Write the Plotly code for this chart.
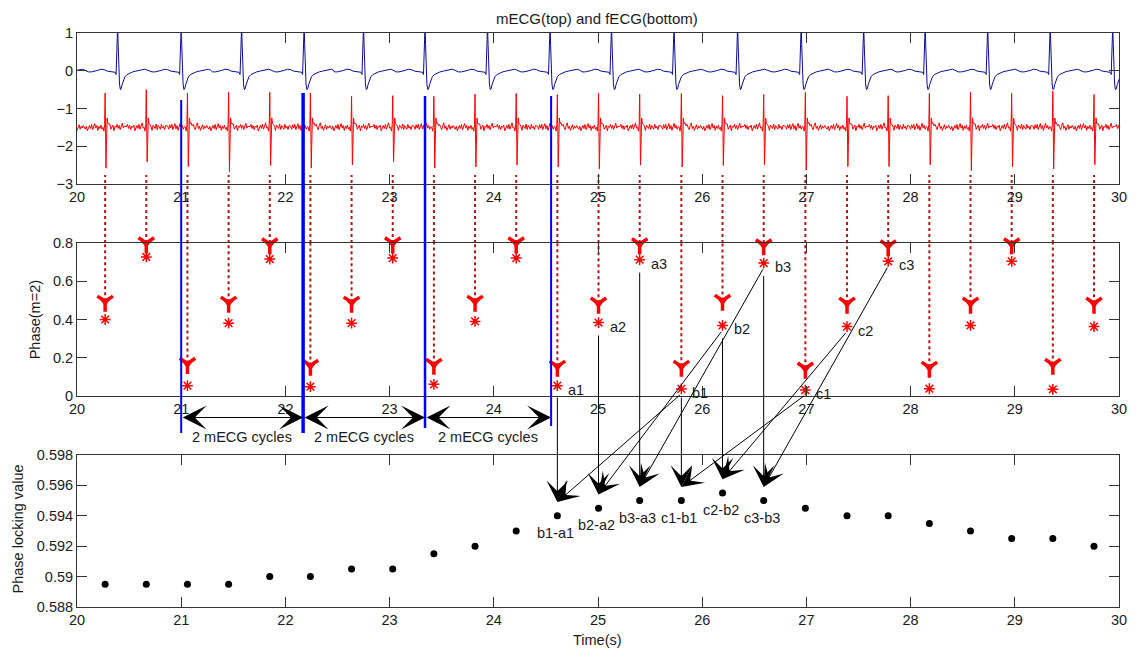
import plotly.graph_objects as go

# ---------------------------------------------------------------- data
# maternal ECG R-peak times (s); the first one lies just before the window
mecg_peak_t = [19.79, 20.39, 21.00, 21.58, 22.18, 22.75, 23.34, 23.94, 24.54, 25.13,
               25.73, 26.34, 26.95, 27.55, 28.14, 28.74, 29.34, 29.94]
# one maternal beat: offset from the R peak (s) and amplitude
mecg_beat_dt = [-0.28, -0.25, -0.22, -0.19, -0.16, -0.13, -0.10, -0.07, -0.04, -0.025,
                -0.015, -0.008, -0.003, 0.0, 0.005, 0.011, 0.018, 0.026, 0.034, 0.044,
                0.056, 0.07, 0.09, 0.115, 0.145, 0.175, 0.205, 0.235, 0.26, 0.28]
mecg_beat_v = [-0.03, -0.03, -0.02, 0.01, 0.04, 0.03, -0.01, -0.03, -0.03, -0.04,
               -0.10, 0.30, 0.95, 1.20, 0.70, 0.05, -0.35, -0.50, -0.48, -0.36,
               -0.24, -0.16, -0.10, -0.06, -0.03, -0.01, 0.01, 0.03, 0.04, 0.02]

# fetal R-peak times (s) = times of the phase / phase-locking samples
phase_t = [20.27, 20.665, 21.06, 21.455, 21.85, 22.24, 22.635, 23.03, 23.425, 23.82,
           24.215, 24.61, 25.005, 25.40, 25.80, 26.195, 26.59, 26.99, 27.39, 27.785,
           28.18, 28.575, 28.97, 29.365, 29.76]
# fetal beats just outside the window (continuation of the trace)
fecg_before_t = [19.875]
fecg_after_t = [30.155]
# per fetal beat (incl. the two outside ones): R top and S bottom
fecg_r = [-0.60, -0.59, -0.50, -0.59, -0.57, -0.57, -0.59, -0.68, -0.66, -0.68,
          -0.62, -0.60, -0.63, -0.60, -0.62, -0.60, -0.66, -0.63, -0.57, -0.68,
          -0.66, -0.60, -0.57, -0.60, -0.54, -0.63, -0.60]
fecg_s = [-2.50, -2.58, -2.41, -2.54, -2.67, -2.51, -2.58, -2.49, -2.41, -2.58,
          -2.55, -2.50, -2.55, -2.60, -2.50, -2.55, -2.51, -2.49, -2.63, -2.54,
          -2.54, -2.49, -2.65, -2.54, -2.60, -2.49, -2.50]
fecg_level = -1.5
# baseline sample offsets around each fetal R peak (s)
fecg_base_dt = [-0.19, -0.18, -0.17, -0.16, -0.15, -0.14, -0.13, -0.12, -0.11, -0.10,
                -0.09, -0.08, -0.07, -0.06, -0.05, -0.04, -0.03,
                0.035, 0.045, 0.055, 0.065, 0.075, 0.085, 0.095, 0.105, 0.115,
                0.125, 0.135, 0.145, 0.155, 0.165, 0.175, 0.185]
# baseline wiggle (three stretches, reused in turn)
fecg_wiggle = [
    [0.03, -0.05, 0.07, -0.02, 0.08, -0.06, 0.02, 0.10, -0.04, 0.05, -0.08, 0.03, 0.11,
     -0.02, 0.05, -0.05, 0.02, 0.12, 0.04, 0.08, 0.00, -0.06, 0.05, 0.12, -0.03, 0.03,
     -0.08, 0.02, 0.07, -0.05, 0.03, -0.02, 0.05],
    [-0.05, 0.03, -0.09, 0.02, 0.05, -0.03, 0.08, -0.06, 0.00, 0.10, -0.02, 0.05, -0.08,
     0.03, -0.03, 0.06, -0.05, 0.10, 0.09, -0.05, 0.02, 0.06, -0.09, 0.03, 0.00, 0.08,
     -0.03, 0.05, -0.06, 0.02, 0.11, -0.02, 0.03],
    [0.02, 0.08, -0.03, 0.05, -0.06, 0.03, 0.00, 0.06, -0.09, 0.02, 0.05, -0.03, 0.08,
     -0.05, 0.03, 0.12, -0.02, 0.08, 0.03, -0.08, 0.06, 0.02, -0.03, 0.09, -0.06, 0.05,
     0.00, -0.05, 0.08, -0.02, 0.03, -0.06, 0.05],
]
# QRS of a fetal beat: offsets (s) and values ("R"/"S" = R top / S bottom of that beat)
fecg_qrs_dt = [-0.02, -0.012, -0.005, 0.0, 0.004, 0.008, 0.013, 0.019, 0.026]
fecg_qrs_v = [-1.50, -1.60, -1.42, "R", -1.50, "S", -1.95, -1.25, -1.40]

# phase (m=2) at each fetal R peak (asterisks) and the cluster just above it
phase_star = [0.40, 0.727, 0.054, 0.381, 0.716, 0.049, 0.381, 0.721, 0.061, 0.39,
              0.721, 0.054, 0.384, 0.713, 0.037, 0.369, 0.695, 0.031, 0.363, 0.704,
              0.038, 0.369, 0.704, 0.035, 0.363]
phase_cluster = [0.495, 0.80, 0.17, 0.49, 0.795, 0.16, 0.49, 0.80, 0.165, 0.495,
                 0.80, 0.155, 0.485, 0.795, 0.155, 0.50, 0.79, 0.145, 0.485, 0.785,
                 0.15, 0.485, 0.795, 0.165, 0.485]
# phase locking value
plv = [0.5895, 0.5895, 0.5895, 0.5895, 0.590, 0.590, 0.5905, 0.5905, 0.5915, 0.592,
       0.593, 0.594, 0.5945, 0.595, 0.595, 0.5955, 0.595, 0.5945, 0.594, 0.594,
       0.5935, 0.593, 0.5925, 0.5925, 0.592]

# every second maternal beat (blue markers)
cycle_mark_t = [21.00, 22.17, 23.34, 24.55]
cycle_label = "2 mECG cycles"

# labelled phase samples and the differences they feed
first_labelled = 11
point_names = ["a1", "a2", "a3", "b1", "b2", "b3", "c1", "c2", "c3"]
diff_names = ["b1-a1", "b2-a2", "b3-a3", "c1-b1", "c2-b2", "c3-b3"]

x_ticks = [20, 21, 22, 23, 24, 25, 26, 27, 28, 29, 30]
top_ticks = [-3, -2, -1, 0, 1]
mid_ticks = [0, 0.2, 0.4, 0.6, 0.8]
mid_ticktext = ["0", "0.2", "0.4", "0.6", "0.8"]
bot_ticks = [0.588, 0.590, 0.592, 0.594, 0.596, 0.598]
bot_ticktext = ["0.588", "0.59", "0.592", "0.594", "0.596", "0.598"]

title_text = "mECG(top) and fECG(bottom)"
mid_ytitle = "Phase(m=2)"
bot_ytitle = "Phase locking value"
xtitle = "Time(s)"

# ---------------------------------------------------------------- build traces
mx, my = [], []
for t in mecg_peak_t:
    for dt, v in zip(mecg_beat_dt, mecg_beat_v):
        mx.append(t + dt)
        my.append(v)

fecg_peak_t = fecg_before_t + phase_t + fecg_after_t
fx, fy = [], []
for k, t in enumerate(fecg_peak_t):
    wig = fecg_wiggle[k % len(fecg_wiggle)]
    pts = []
    for dt, w in zip(fecg_base_dt, wig):
        pts.append((dt, fecg_level + w))
    for dt, v in zip(fecg_qrs_dt, fecg_qrs_v):
        if v == "R":
            v = fecg_r[k]
        elif v == "S":
            v = fecg_s[k]
        pts.append((dt, v))
    pts.sort()
    for dt, v in pts:
        fx.append(t + dt)
        fy.append(v)

# ---------------------------------------------------------------- layout geometry
FONT = "Liberation Sans, Arial, sans-serif"
W, H = 1138, 650
ML, MR, MT, MB = 77, 11, 33, 43
PH = H - MT - MB
PW = W - ML - MR


def py(px):
    """pixel row -> paper y"""
    return 1 - (px - MT) / PH


def pxx(px):
    """pixel column -> paper x"""
    return (px - ML) / PW


D_TOP = [py(184), 1.0]
D_MID = [py(396), py(243)]
D_BOT = [0.0, py(455)]
R_TOP = [-3, 1]
R_MID = [0, 0.8]
R_BOT = [0.588, 0.598]


def mid_to_bot(v):
    p = D_MID[0] + (v - R_MID[0]) / (R_MID[1] - R_MID[0]) * (D_MID[1] - D_MID[0])
    return R_BOT[0] + (p - D_BOT[0]) / (D_BOT[1] - D_BOT[0]) * (R_BOT[1] - R_BOT[0])


RED = "#ff0000"
DOT_RED = "#b01818"
AX = "#333333"
TXT = "#1a1a1a"
FS = 14.5

fig = go.Figure()
fig.add_trace(go.Scatter(x=mx, y=my, mode="lines", line=dict(color="#0c0c96", width=1),
                         xaxis="x", yaxis="y", hoverinfo="skip"))
fig.add_trace(go.Scatter(x=fx, y=fy, mode="lines", line=dict(color=RED, width=1),
                         xaxis="x", yaxis="y", hoverinfo="skip"))
fig.add_trace(go.Scatter(x=phase_t, y=phase_cluster, mode="markers", cliponaxis=False,
                         marker=dict(symbol="triangle-down", size=10, color=RED,
                                     line=dict(width=0)),
                         xaxis="x2", yaxis="y2"))
fig.add_trace(go.Scatter(x=phase_t, y=phase_cluster, mode="markers", cliponaxis=False,
                         marker=dict(symbol="y-down", size=13, color=RED,
                                     line=dict(color=RED, width=3.5)),
                         xaxis="x2", yaxis="y2"))
fig.add_trace(go.Scatter(x=phase_t, y=phase_star, mode="markers", cliponaxis=False,
                         marker=dict(symbol="asterisk-open", size=9, color=RED,
                                     line=dict(color=RED, width=1.5)),
                         xaxis="x2", yaxis="y2"))
fig.add_trace(go.Scatter(x=phase_t, y=plv, mode="markers", cliponaxis=False,
                         marker=dict(symbol="circle", size=7, color="black"),
                         xaxis="x3", yaxis="y3"))

xcommon = dict(range=[20, 30], tickvals=x_ticks, ticks="inside", ticklen=10, tickwidth=1,
               tickcolor=AX, showline=True, linecolor=AX, linewidth=1, mirror="ticks",
               showgrid=False, zeroline=False,
               tickfont=dict(family=FONT, size=FS, color=TXT))
ycommon = dict(ticks="inside", ticklen=10, tickwidth=1, tickcolor=AX, showline=True,
               linecolor=AX, linewidth=1, mirror="ticks", showgrid=False, zeroline=False,
               tickfont=dict(family=FONT, size=FS, color=TXT))

shapes = []
# dotted guides from the fECG trace down to each phase cluster
for t, c in zip(phase_t, phase_cluster):
    shapes.append(dict(type="line", xref="x2", yref="y2", x0=t, x1=t, y0=c, y1=R_MID[1],
                       layer="below", line=dict(color=DOT_RED, width=2, dash="dot")))
    shapes.append(dict(type="line", xref="x2", yref="paper", x0=t, x1=t,
                       y0=D_MID[1], y1=py(175), layer="below",
                       line=dict(color=DOT_RED, width=2, dash="dot")))
# blue cycle markers
blue_top = [100, 93, 96, 96]
blue_bot = [433, 433, 428, 426]
blue_w = [2, 3.5, 2.5, 2]
for t, a, b, w in zip(cycle_mark_t, blue_top, blue_bot, blue_w):
    shapes.append(dict(type="line", xref="x", yref="paper", x0=t, x1=t, y0=py(b), y1=py(a),
                       line=dict(color="#0000ff", width=w)))


def label(text, x, y, **kw):
    d = dict(text=text, xref="paper", yref="paper", x=x, y=y, showarrow=False,
             xanchor="center", yanchor="middle",
             font=dict(family=FONT, size=FS, color=TXT))
    d.update(kw)
    return d


ann = []
ann.append(label(title_text, pxx(601), py(18), font=dict(family=FONT, size=15, color=TXT)))
ann.append(label(mid_ytitle, pxx(35), py(320), textangle=-90))
ann.append(label(bot_ytitle, pxx(18), py(529), textangle=-90))
ann.append(label(xtitle, pxx(601), py(640)))

# double arrows between the blue markers
for a, b in zip(cycle_mark_t[:-1], cycle_mark_t[1:]):
    ann.append(dict(text="", xref="x2", yref="paper", x=b, y=py(417.5),
                    axref="x2", ax=a, ayref="pixel", ay=0, showarrow=True,
                    arrowside="end+start", arrowhead=3, startarrowhead=3,
                    arrowsize=4, startarrowsize=4, arrowwidth=1, arrowcolor="black"))
    ann.append(label(cycle_label, (a + b) / 2, py(437), xref="x2"))

# point labels a1..c3
for k, name in enumerate(point_names):
    i = first_labelled + k
    ann.append(dict(text=name, xref="x2", yref="y2", x=phase_t[i], y=phase_star[i],
                    xanchor="left", yanchor="middle", xshift=9, yshift=-4,
                    showarrow=False, font=dict(family=FONT, size=FS, color=TXT)))
# difference labels
for k, name in enumerate(diff_names):
    i = first_labelled + k
    ann.append(dict(text=name, xref="x3", yref="y3", x=phase_t[i], y=plv[i],
                    xanchor="center", yanchor="middle", xshift=-2, yshift=-17,
                    showarrow=False, font=dict(family=FONT, size=FS, color=TXT)))
# arrows from the phase samples to the differences
TIP_GAP = 0.0009
for k in range(len(diff_names)):
    j = first_labelled + k
    for src, gap in ((j, 0.06), (j + 3, 0.025)):
        sy = max(phase_star[src] - gap, 0)
        ann.append(dict(text="", xref="x3", yref="y3", x=phase_t[j], y=plv[j] + TIP_GAP,
                        axref="x3", ayref="y3", ax=phase_t[src], ay=mid_to_bot(sy),
                        showarrow=True, arrowhead=3, arrowsize=3.6, arrowwidth=1,
                        arrowcolor="black"))

fig.update_layout(
    width=W, height=H, margin=dict(l=ML, r=MR, t=MT, b=MB),
    paper_bgcolor="white", plot_bgcolor="white", showlegend=False,
    font=dict(family=FONT, size=FS, color=TXT),
    xaxis=dict(domain=[0, 1], anchor="y", **xcommon),
    xaxis2=dict(domain=[0, 1], anchor="y2", **xcommon),
    xaxis3=dict(domain=[0, 1], anchor="y3", **xcommon),
    yaxis=dict(domain=D_TOP, anchor="x", range=R_TOP, tickvals=top_ticks, **ycommon),
    yaxis2=dict(domain=D_MID, anchor="x2", range=R_MID, tickvals=mid_ticks,
                ticktext=mid_ticktext, **ycommon),
    yaxis3=dict(domain=D_BOT, anchor="x3", range=R_BOT, tickvals=bot_ticks,
                ticktext=bot_ticktext, **ycommon),
    shapes=shapes, annotations=ann,
)

fig.write_html("out.html")
